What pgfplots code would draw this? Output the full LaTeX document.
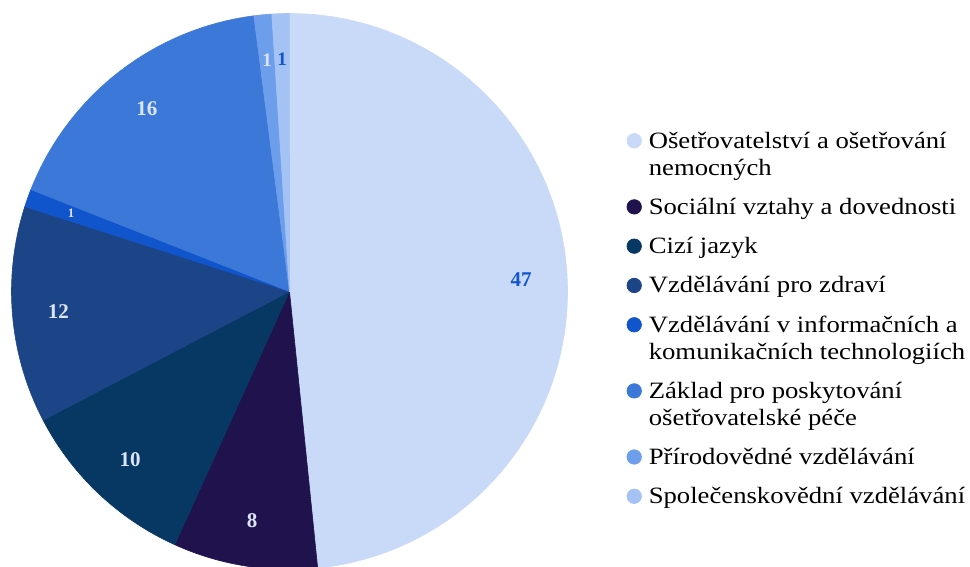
\documentclass[border=0pt]{standalone}
\usepackage{pgfplots}
\pgfplotsset{compat=1.18}
\usepackage{fontspec}
\setmainfont{Liberation Serif}
\newfontfamily\legfont{Liberation Serif}[FakeStretch=1.14]
\definecolor{s1}{HTML}{C9DAF8}
\definecolor{s2}{HTML}{20124D}
\definecolor{s3}{HTML}{073763}
\definecolor{s4}{HTML}{1C4587}
\definecolor{s5}{HTML}{1155CC}
\definecolor{s6}{HTML}{3C78D8}
\definecolor{s7}{HTML}{6D9EEB}
\definecolor{s8}{HTML}{A4C2F4}
\definecolor{lblue}{HTML}{1155CC}
\definecolor{llight}{HTML}{DCE4F7}
\begin{document}
\begin{tikzpicture}
\begin{axis}[
  hide axis, scale only axis, width=485pt, height=283.5pt,
  xmin=0, xmax=970, ymin=0, ymax=567,
  legend image code/.code={\fill[#1] (3.6pt,3.75pt) circle[radius=3.6pt];},
  legend style={at={(0.646,0.7972)}, anchor=north west, draw=none, fill=none,
    inner sep=0pt, outer sep=0pt, row sep=0pt, column sep=3.5pt,
    font=\legfont\fontsize{11.7}{13.4}\selectfont,
    nodes={inner sep=0pt, outer sep=0pt, text depth=3pt, text height=16.65pt},
    cells={anchor=base west}},
]
\coordinate (bl) at (axis cs:0,0);
\coordinate (tr) at (axis cs:970,567);
% slice sizes as read from the picture (total 96), labels as printed
\pgfplotsextra{
  \gdef\startang{90}
  \foreach \v/\c in {46.45/s1, 8.05/s2, 10.15/s3, 12.1/s4, 0.99/s5, 16.3/s6, 0.99/s7, 0.97/s8}{
    \pgfmathsetmacro{\sweep}{\v/96*360}
    \pgfmathsetmacro{\endang}{\startang-\sweep}
    \fill[\c, draw=\c, line width=0.3pt, line join=round] (axis cs:289.5,275.5) -- ++(\startang:139pt)
      arc[start angle=\startang, end angle=\endang, radius=139pt] -- cycle;
    \xdef\startang{\endang}
  }
  \gdef\startang{90}
  \foreach \v/\t/\lc/\fs in {46.45/47/lblue/10.5, 8.05/8/llight/10.5, 10.15/10/llight/10.5, 12.1/12/llight/10.5, 0.99/1/llight/6.4, 16.3/16/llight/10.5, 0.99/1/llight/9.5, 0.97/1/lblue/9.5}{
    \pgfmathsetmacro{\sweep}{\v/96*360}
    \pgfmathsetmacro{\endang}{\startang-\sweep}
    \pgfmathsetmacro{\midang}{\startang-\sweep/2}
    \path (axis cs:289.5,275.5) ++(\midang:116pt) node[text=\lc, inner sep=0pt, font=\fontsize{\fs}{\fs}\selectfont\bfseries] {\t};
    \xdef\startang{\endang}
  }
}
\addlegendimage{s1}
\addlegendentry{Ošetřovatelství a ošetřování}
\addlegendimage{empty legend}
\addlegendentry[text height=10.4pt]{nemocných}
\addlegendimage{s2}
\addlegendentry{Sociální vztahy a dovednosti}
\addlegendimage{s3}
\addlegendentry{Cizí jazyk}
\addlegendimage{s4}
\addlegendentry{Vzdělávání pro zdraví}
\addlegendimage{s5}
\addlegendentry{Vzdělávání v informačních a}
\addlegendimage{empty legend}
\addlegendentry[text height=10.4pt]{komunikačních technologiích}
\addlegendimage{s6}
\addlegendentry{Základ pro poskytování}
\addlegendimage{empty legend}
\addlegendentry[text height=10.4pt]{ošetřovatelské péče}
\addlegendimage{s7}
\addlegendentry{Přírodovědné vzdělávání}
\addlegendimage{s8}
\addlegendentry{Společenskovědní vzdělávání}
\end{axis}
\pgfresetboundingbox
\useasboundingbox (bl) rectangle (tr);
\end{tikzpicture}
\end{document}
